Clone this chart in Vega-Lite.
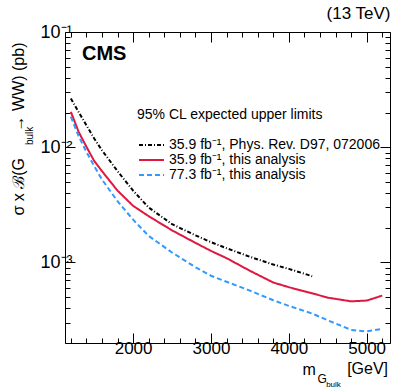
{
  "$schema": "https://vega.github.io/schema/vega-lite/v6.json",
  "width": 325,
  "height": 311,
  "autosize": {"type": "none"},
  "padding": {"left": 65, "top": 32, "right": 17, "bottom": 47},
  "background": "white",
  "config": {
    "font": "Liberation Sans",
    "view": {"stroke": "black", "strokeWidth": 1},
    "axis": {"grid": false, "domain": false, "tickColor": "black", "tickWidth": 1, "labelColor": "black", "titleColor": "black", "labelFont": "Liberation Sans", "titleFont": "Liberation Sans", "titleFontWeight": "normal"},
    "legend": {"titleColor": "black", "labelColor": "black"}
  },
  "title": {"text": "(13 TeV)", "anchor": "end", "fontSize": 17, "fontWeight": "normal", "font": "Liberation Sans", "baseline": "alphabetic", "offset": -13, "color": "black"},
  "data": {"values": [
    {"series": "35.9 fb⁻¹, Phys. Rev. D97, 072006", "mass": 1200, "limit": 0.0265},
    {"series": "35.9 fb⁻¹, Phys. Rev. D97, 072006", "mass": 1300, "limit": 0.0202},
    {"series": "35.9 fb⁻¹, Phys. Rev. D97, 072006", "mass": 1400, "limit": 0.0155},
    {"series": "35.9 fb⁻¹, Phys. Rev. D97, 072006", "mass": 1500, "limit": 0.0119},
    {"series": "35.9 fb⁻¹, Phys. Rev. D97, 072006", "mass": 1600, "limit": 0.0094},
    {"series": "35.9 fb⁻¹, Phys. Rev. D97, 072006", "mass": 1800, "limit": 0.0062},
    {"series": "35.9 fb⁻¹, Phys. Rev. D97, 072006", "mass": 2000, "limit": 0.0042},
    {"series": "35.9 fb⁻¹, Phys. Rev. D97, 072006", "mass": 2200, "limit": 0.0030},
    {"series": "35.9 fb⁻¹, Phys. Rev. D97, 072006", "mass": 2500, "limit": 0.00215},
    {"series": "35.9 fb⁻¹, Phys. Rev. D97, 072006", "mass": 2800, "limit": 0.00172},
    {"series": "35.9 fb⁻¹, Phys. Rev. D97, 072006", "mass": 3000, "limit": 0.0015},
    {"series": "35.9 fb⁻¹, Phys. Rev. D97, 072006", "mass": 3200, "limit": 0.00133},
    {"series": "35.9 fb⁻¹, Phys. Rev. D97, 072006", "mass": 3500, "limit": 0.00112},
    {"series": "35.9 fb⁻¹, Phys. Rev. D97, 072006", "mass": 3800, "limit": 0.00096},
    {"series": "35.9 fb⁻¹, Phys. Rev. D97, 072006", "mass": 4000, "limit": 0.00088},
    {"series": "35.9 fb⁻¹, Phys. Rev. D97, 072006", "mass": 4300, "limit": 0.00076},
    {"series": "35.9 fb⁻¹, this analysis", "mass": 1200, "limit": 0.0203},
    {"series": "35.9 fb⁻¹, this analysis", "mass": 1300, "limit": 0.0136},
    {"series": "35.9 fb⁻¹, this analysis", "mass": 1400, "limit": 0.0101},
    {"series": "35.9 fb⁻¹, this analysis", "mass": 1500, "limit": 0.0076},
    {"series": "35.9 fb⁻¹, this analysis", "mass": 1600, "limit": 0.0062},
    {"series": "35.9 fb⁻¹, this analysis", "mass": 1800, "limit": 0.0042},
    {"series": "35.9 fb⁻¹, this analysis", "mass": 2000, "limit": 0.0031},
    {"series": "35.9 fb⁻¹, this analysis", "mass": 2200, "limit": 0.00252},
    {"series": "35.9 fb⁻¹, this analysis", "mass": 2500, "limit": 0.0019},
    {"series": "35.9 fb⁻¹, this analysis", "mass": 2800, "limit": 0.00148},
    {"series": "35.9 fb⁻¹, this analysis", "mass": 3000, "limit": 0.00126},
    {"series": "35.9 fb⁻¹, this analysis", "mass": 3200, "limit": 0.00109},
    {"series": "35.9 fb⁻¹, this analysis", "mass": 3500, "limit": 0.000847},
    {"series": "35.9 fb⁻¹, this analysis", "mass": 3800, "limit": 0.00067},
    {"series": "35.9 fb⁻¹, this analysis", "mass": 4000, "limit": 0.00061},
    {"series": "35.9 fb⁻¹, this analysis", "mass": 4300, "limit": 0.00054},
    {"series": "35.9 fb⁻¹, this analysis", "mass": 4500, "limit": 0.000495},
    {"series": "35.9 fb⁻¹, this analysis", "mass": 4800, "limit": 0.00046},
    {"series": "35.9 fb⁻¹, this analysis", "mass": 5000, "limit": 0.000467},
    {"series": "35.9 fb⁻¹, this analysis", "mass": 5100, "limit": 0.00049},
    {"series": "35.9 fb⁻¹, this analysis", "mass": 5200, "limit": 0.000516},
    {"series": "77.3 fb⁻¹, this analysis", "mass": 1200, "limit": 0.0184},
    {"series": "77.3 fb⁻¹, this analysis", "mass": 1300, "limit": 0.0125},
    {"series": "77.3 fb⁻¹, this analysis", "mass": 1400, "limit": 0.0091},
    {"series": "77.3 fb⁻¹, this analysis", "mass": 1500, "limit": 0.00686},
    {"series": "77.3 fb⁻¹, this analysis", "mass": 1600, "limit": 0.00525},
    {"series": "77.3 fb⁻¹, this analysis", "mass": 1800, "limit": 0.0034},
    {"series": "77.3 fb⁻¹, this analysis", "mass": 2000, "limit": 0.00235},
    {"series": "77.3 fb⁻¹, this analysis", "mass": 2200, "limit": 0.0017},
    {"series": "77.3 fb⁻¹, this analysis", "mass": 2500, "limit": 0.00122},
    {"series": "77.3 fb⁻¹, this analysis", "mass": 2800, "limit": 0.00091},
    {"series": "77.3 fb⁻¹, this analysis", "mass": 3000, "limit": 0.000767},
    {"series": "77.3 fb⁻¹, this analysis", "mass": 3200, "limit": 0.00068},
    {"series": "77.3 fb⁻¹, this analysis", "mass": 3500, "limit": 0.00057},
    {"series": "77.3 fb⁻¹, this analysis", "mass": 3800, "limit": 0.00047},
    {"series": "77.3 fb⁻¹, this analysis", "mass": 4000, "limit": 0.00042},
    {"series": "77.3 fb⁻¹, this analysis", "mass": 4300, "limit": 0.00036},
    {"series": "77.3 fb⁻¹, this analysis", "mass": 4500, "limit": 0.000315},
    {"series": "77.3 fb⁻¹, this analysis", "mass": 4800, "limit": 0.00026},
    {"series": "77.3 fb⁻¹, this analysis", "mass": 5000, "limit": 0.000252},
    {"series": "77.3 fb⁻¹, this analysis", "mass": 5200, "limit": 0.000265}
  ]},
  "layer": [
    {
      "mark": {"type": "line", "strokeWidth": 2, "clip": true},
      "encoding": {
        "x": {"field": "mass", "type": "quantitative", "scale": {"domain": [1125, 5300], "nice": false, "zero": false},
          "axis": {"orient": "bottom", "values": [1200,1400,1600,1800,2000,2200,2400,2600,2800,3000,3200,3400,3600,3800,4000,4200,4400,4600,4800,5000,5200],
            "format": "d", "labelExpr": "datum.value % 1000 === 0 ? datum.label : ''",
            "tickSize": {"condition": {"test": "datum.value % 1000 === 0", "value": -10}, "value": -5},
            "labelFontSize": 17, "labelPadding": 7, "labelFlush": false, "labelOverlap": false,
            "title": "m", "titleFontSize": 16, "titleAlign": "left", "titleBaseline": "alphabetic", "titleX": 237, "titleY": 31}},
        "y": {"field": "limit", "type": "quantitative", "scale": {"type": "log", "domain": [0.0002, 0.1], "nice": false},
          "axis": {"orient": "left", "values": [0.0002,0.0003,0.0004,0.0005,0.0006,0.0007,0.0008,0.0009,0.001,0.002,0.003,0.004,0.005,0.006,0.007,0.008,0.009,0.01,0.02,0.03,0.04,0.05,0.06,0.07,0.08,0.09,0.1],
            "labelExpr": "datum.value === 0.1 ? '10⁻¹' : datum.value === 0.01 ? '10⁻²' : datum.value === 0.001 ? '10⁻³' : ''",
            "tickSize": {"condition": {"test": "datum.value === 0.1 || datum.value === 0.01 || datum.value === 0.001", "value": -10}, "value": -5},
            "labelFontSize": 18, "labelPadding": 3, "labelBaseline": "middle", "labelFlush": false, "labelOverlap": false,
            "title": "σ x ℬ(G\u00a0\u00a0\u00a0\u00a0\u00a0\u00a0→ WW) (pb)", "titleFontSize": 16, "titleAngle": 270, "titleAlign": "right", "titleBaseline": "alphabetic", "titleX": -42, "titleY": 10}},
        "color": {"field": "series", "type": "nominal",
          "scale": {"domain": ["35.9 fb⁻¹, Phys. Rev. D97, 072006", "35.9 fb⁻¹, this analysis", "77.3 fb⁻¹, this analysis"], "range": ["#000000", "#e0173f", "#3399ff"]},
          "legend": {"title": "95% CL expected upper limits", "orient": "none", "legendX": 72, "legendY": 76, "titleFontSize": 14, "titleFontWeight": "normal", "titleFont": "Liberation Sans", "titlePadding": 16, "labelFontSize": 14, "labelFont": "Liberation Sans", "symbolType": "M-1,0H4", "symbolSize": 100, "symbolStrokeWidth": 2, "labelOffset": 18, "rowPadding": 1, "labelLimit": 400, "titleLimit": 400, "padding": 0}},
        "strokeDash": {"field": "series", "type": "nominal",
          "scale": {"domain": ["35.9 fb⁻¹, Phys. Rev. D97, 072006", "35.9 fb⁻¹, this analysis", "77.3 fb⁻¹, this analysis"], "range": [[4,2,1,2],[1,0],[5,3]]},
          "legend": {"title": "95% CL expected upper limits", "orient": "none", "legendX": 72, "legendY": 76, "titleFontSize": 14, "titleFontWeight": "normal", "titleFont": "Liberation Sans", "titlePadding": 16, "labelFontSize": 14, "labelFont": "Liberation Sans", "symbolType": "M-1,0H4", "symbolSize": 100, "symbolStrokeWidth": 2, "labelOffset": 18, "rowPadding": 1, "labelLimit": 400, "titleLimit": 400, "padding": 0}}
      }
    },
    {
      "mark": {"type": "line", "opacity": 0},
      "encoding": {
        "x": {"field": "mass", "type": "quantitative",
          "axis": {"orient": "top", "values": [1200,1400,1600,1800,2000,2200,2400,2600,2800,3000,3200,3400,3600,3800,4000,4200,4400,4600,4800,5000,5200], "labels": false, "title": null,
            "tickSize": {"condition": {"test": "datum.value % 1000 === 0", "value": -10}, "value": -5}}},
        "y": {"field": "limit", "type": "quantitative",
          "axis": {"orient": "right", "values": [0.0002,0.0003,0.0004,0.0005,0.0006,0.0007,0.0008,0.0009,0.001,0.002,0.003,0.004,0.005,0.006,0.007,0.008,0.009,0.01,0.02,0.03,0.04,0.05,0.06,0.07,0.08,0.09,0.1], "labels": false, "title": null,
            "tickSize": {"condition": {"test": "datum.value === 0.1 || datum.value === 0.01 || datum.value === 0.001", "value": -10}, "value": -5}}},
        "detail": {"field": "series"}
      }
    },
    {
      "data": {"values": [{}]},
      "mark": {"type": "text", "text": "CMS", "fontSize": 20, "fontWeight": "bold", "font": "Liberation Sans", "align": "left", "baseline": "alphabetic", "color": "black"},
      "encoding": {"x": {"datum": 1343, "type": "quantitative", "axis": null}, "y": {"datum": 0.0572, "type": "quantitative", "axis": null}}
    },
    {
      "data": {"values": [{}]},
      "mark": {"type": "text", "text": "bulk", "fontSize": 10, "font": "Liberation Sans", "angle": 270, "align": "left", "baseline": "alphabetic", "color": "black"},
      "encoding": {"x": {"datum": 714, "type": "quantitative", "axis": null}, "y": {"datum": 0.01045, "type": "quantitative", "axis": null}}
    },
    {
      "data": {"values": [{}]},
      "mark": {"type": "text", "text": "G", "fontSize": 12, "font": "Liberation Sans", "align": "left", "baseline": "alphabetic", "color": "black"},
      "encoding": {"x": {"datum": 4370, "type": "quantitative", "axis": null}, "y": {"datum": 0.0000897, "type": "quantitative", "axis": null}}
    },
    {
      "data": {"values": [{}]},
      "mark": {"type": "text", "text": "bulk", "fontSize": 8, "font": "Liberation Sans", "align": "left", "baseline": "alphabetic", "color": "black"},
      "encoding": {"x": {"datum": 4480, "type": "quantitative", "axis": null}, "y": {"datum": 0.0000828, "type": "quantitative", "axis": null}}
    },
    {
      "data": {"values": [{}]},
      "mark": {"type": "text", "text": "[GeV]", "fontSize": 16, "font": "Liberation Sans", "align": "right", "baseline": "alphabetic", "color": "black"},
      "encoding": {"x": {"datum": 5275, "type": "quantitative", "axis": null}, "y": {"datum": 0.0001073, "type": "quantitative", "axis": null}}
    }
  ]
}
